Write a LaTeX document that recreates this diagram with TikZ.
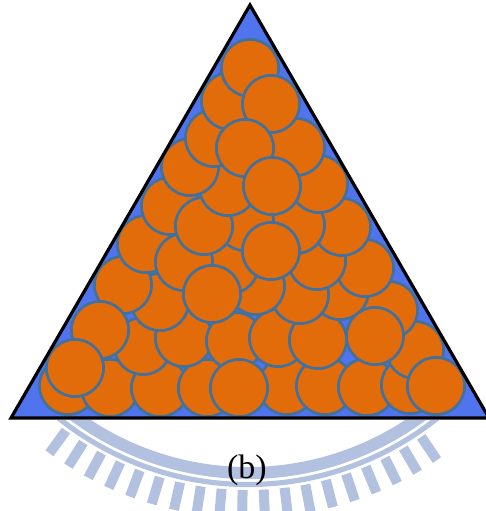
\documentclass[tikz,border=0pt]{standalone}
\usepackage{fontspec}
\setmainfont{Liberation Serif}
\definecolor{tri}{RGB}{79,116,238}
\definecolor{ballfill}{RGB}{227,108,10}
\definecolor{ballline}{RGB}{65,113,156}
\definecolor{wmark}{RGB}{178,193,223}
\begin{document}
\begin{tikzpicture}[x=0.5pt,y=-0.5pt,
  ball/.style={fill=ballfill,draw=ballline,line width=1.35pt},
  wm/.style={draw=wmark}]
\useasboundingbox (0,0) rectangle (486,511);
% faint watermark below the triangle
\begin{scope}
  \clip (0,420) rectangle (486,511);
  \draw[wm,line width=6pt] (248,181) ++(40:292) arc[start angle=40,end angle=140,radius=292];
  \draw[wm,line width=2.6pt] (248,181) ++(40:303.5) arc[start angle=40,end angle=140,radius=303.5];
  \foreach \a in {55.9,59.8,...,127} {
    \draw[wm,line width=5pt] (248,181) ++(\a:309) -- ++(\a:28);
  }
\end{scope}
% triangle
\fill[tri] (11,418) -- (250,5) -- (489,418) -- cycle;
% balls, back to front
\foreach \x/\y in {
  68/386, 110/388, 160/388, 207/388, 287/386, 325/386, 367/387, 410/385,
  143/346, 184/338, 235/341, 278/338, 318/340, 415/350,
  389/310, 340/291, 300/295, 256/286, 160/302, 123/285,
  365/268, 317/261, 230/265, 146/244, 184/262,
  342/227, 296/225, 245/222, 170/206, 204/226, 228/187, 319/184, 190/167,
  214/138, 296/147, 230/101, 250/68,
  271/104, 245/148, 272/186, 271/251, 212/294, 100/330, 75/368,
  375/336, 239/388, 436/386}
  \draw[ball] (\x,\y) circle[radius=28.6];
\draw[line width=1.6pt,line join=miter] (11,418) -- (250,5) -- (489,418) -- cycle;
\node[anchor=base,font=\fontsize{17}{20}\selectfont,inner sep=0pt] (lbl) at (247,478) {(b)};
\end{tikzpicture}
\end{document}
